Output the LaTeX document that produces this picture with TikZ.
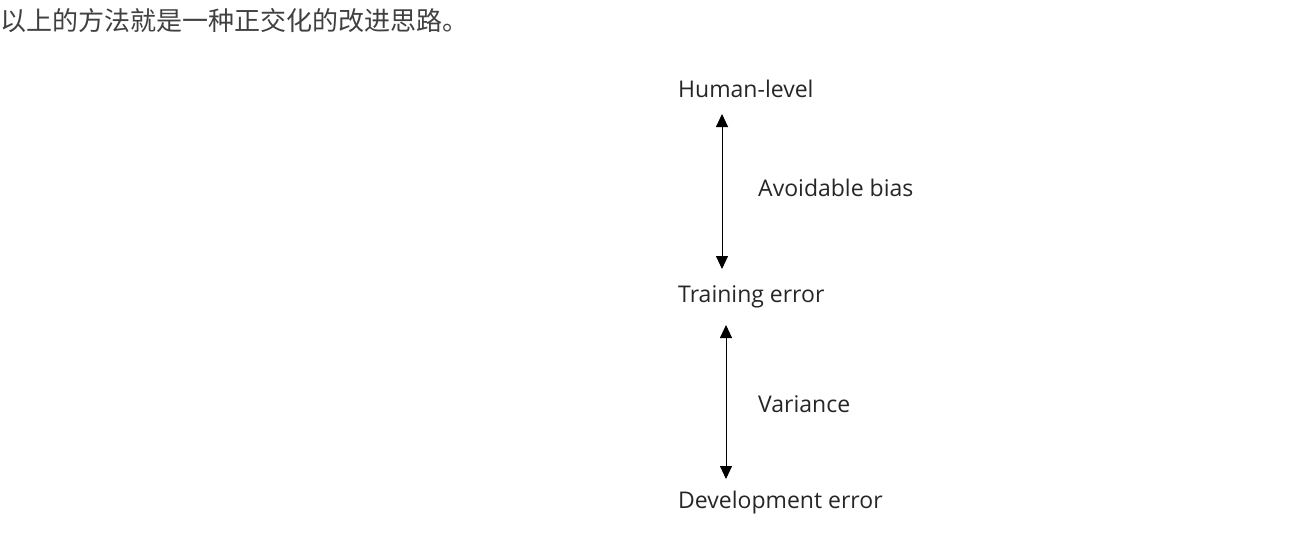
\documentclass[tikz,border=0pt]{standalone}
\usepackage{fontspec}
\setmainfont{Open Sans}
\newfontfamily\cjk{Noto Sans CJK SC}
\usetikzlibrary{arrows.meta}
\begin{document}
\begin{tikzpicture}[x=1pt,y=-1pt,
  lbl/.style={anchor=west,inner sep=0pt,font=\fontsize{23}{28}\selectfont,text=black!85},
  arr/.style={{Triangle[length=13pt,width=12pt]}-{Triangle[length=13pt,width=12pt]},line width=0.9pt}]
\useasboundingbox (0,0) rectangle (1300,551);
\node[anchor=west,inner sep=0pt,font=\cjk\fontsize{26}{30}\selectfont,text=black!75] (t) at (0,21) {以上的方法就是一种正交化的改进思路。};
\node[lbl] (h) at (678,89) {Human-level};
\node[lbl] (tr) at (678,297) {Training error};
\node[lbl] (d) at (678,503) {Development error};
\node[lbl] (ab) at (758,188) {Avoidable bias};
\node[lbl] (v) at (758,404) {Variance};
\coordinate (a1) at (722,114);
\coordinate (a2) at (722,269);
\coordinate (b1) at (726,325);
\coordinate (b2) at (726,479);
\draw[arr] (a1) -- (a2);
\draw[arr] (b1) -- (b2);
\end{tikzpicture}
\end{document}
